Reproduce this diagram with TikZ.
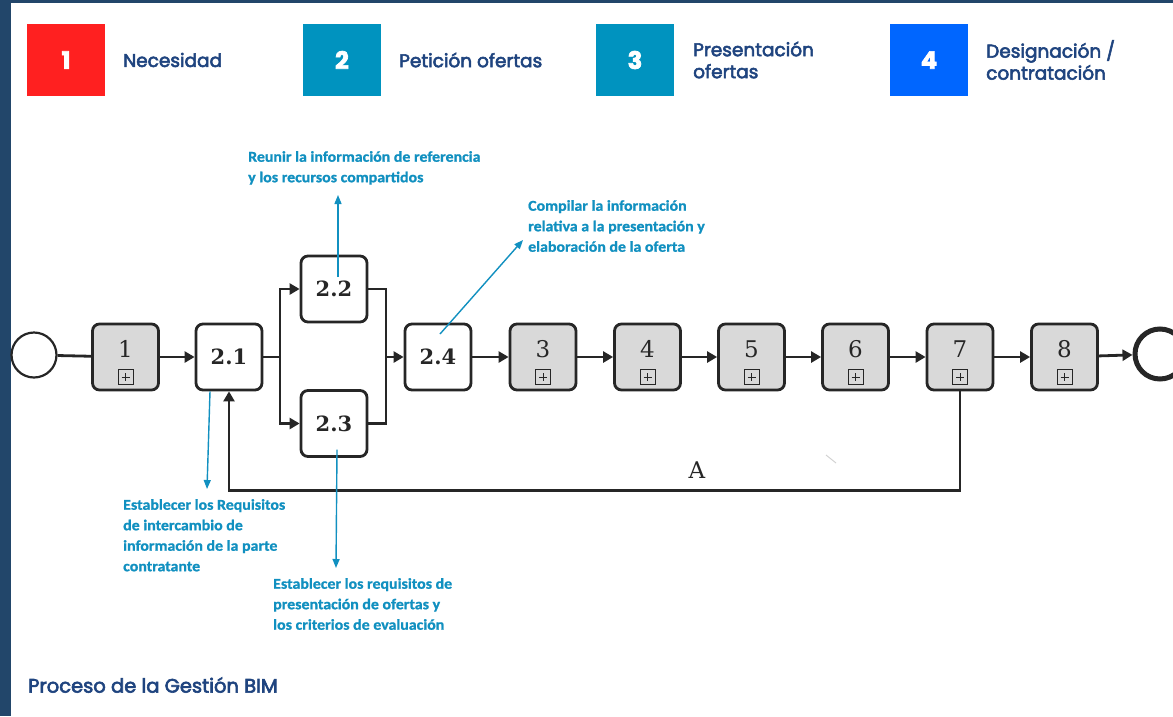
\documentclass[tikz,border=0pt]{standalone}
\usepackage{fontspec}
\setmainfont{DejaVu Serif}
\newfontfamily\headfont{Poppins}[FakeBold=3]
\newfontfamily\notefont{Carlito}[FakeStretch=1.06,FakeBold=1]
\usetikzlibrary{arrows.meta}
\definecolor{marco}{HTML}{22466A}
\definecolor{rojo}{HTML}{FF2020}
\definecolor{cian}{HTML}{0093BF}
\definecolor{azulvivo}{HTML}{0066FF}
\definecolor{azul}{HTML}{1F447F}
\definecolor{nota}{HTML}{1190C0}
\definecolor{tinta}{HTML}{262626}
\definecolor{gris}{HTML}{D9D9D9}
\begin{document}
\begin{tikzpicture}[x=1pt,y=-1pt,
  tarea/.style={draw=tinta,fill=white,line width=2.8pt,rounded corners=7pt,minimum width=66pt,minimum height=66pt,inner sep=0pt,font=\bfseries\fontsize{21}{24}\selectfont,text=tinta},
  subproc/.style={tarea,fill=gris},
  numero/.style={inner sep=0pt,font=\fontsize{23}{24}\selectfont,text=tinta},
  linea/.style={tinta,line width=2.8pt},
  flujo/.style={linea,-{Triangle[length=10pt,width=11pt]}},
  aviso/.style={nota,line width=1.4pt,-{Triangle[length=9pt,width=7pt]}},
  textonota/.style={anchor=north west,align=left,inner sep=0pt,font=\notefont\bfseries\fontsize{15}{20.5}\selectfont,text=nota},
  leyenda/.style={minimum width=78pt,minimum height=72pt,inner sep=0pt,font=\headfont\bfseries\fontsize{24}{26}\selectfont,text=white},
  etiqueta/.style={anchor=west,align=left,inner sep=0pt,font=\headfont\fontsize{18.5}{22}\selectfont,text=azul}]
 \useasboundingbox (0,0) rectangle (1173,716);
 \fill[white] (0,0) rectangle (1173,716);
 \fill[marco] (0,0) rectangle (11,716);
 \fill[marco] (0,0) rectangle (1173,3);

 \node[leyenda,fill=rojo] (l1) at (66,60) {1};
 \node[leyenda,fill=cian] (l2) at (342,60) {2};
 \node[leyenda,fill=cian] (l3) at (635,60) {3};
 \node[leyenda,fill=azulvivo] (l4) at (929,60) {4};
 \node[etiqueta] (e1) at (123,60) {Necesidad};
 \node[etiqueta] (e2) at (399,60) {Petición ofertas};
 \node[etiqueta] (e3) at (693,60) {Presentación\\ofertas};
 \node[etiqueta] (e4) at (986,60) {Designación /\\contratación};

 \node[draw=tinta,circle,line width=2.2pt,minimum size=45pt,inner sep=0pt] (inicio) at (34,355) {};
 \node[draw=tinta,circle,line width=5pt,minimum size=50pt,inner sep=0pt] (fin) at (1160,354) {};
 \node[tarea] (p21) at (229,357) {2.1};
 \node[tarea] (p22) at (334,289) {2.2};
 \node[tarea] (p23) at (334,423.5) {2.3};
 \node[tarea] (p24) at (438,357) {2.4};
 \foreach \n/\x in {1/125.5,3/543,4/647.5,5/751.5,6/855.5,7/960,8/1064.5} {
  \node[subproc] (p\n) at (\x,357) {};
  \node[numero] (c\n) at ([yshift=8pt]p\n.center) {\n};
  \draw[tinta,line width=1pt] ([xshift=-7.5pt,yshift=-12.5pt]p\n.center) rectangle ([xshift=7.5pt,yshift=-27.5pt]p\n.center);
  \draw[tinta,line width=1pt] ([xshift=-4pt,yshift=-20pt]p\n.center) -- ([xshift=4pt,yshift=-20pt]p\n.center);
  \draw[tinta,line width=1pt] ([yshift=-16pt]p\n.center) -- ([yshift=-24pt]p\n.center);
 }

 \coordinate (divide) at (280,357);
 \coordinate (une) at (386,357);
 \draw[linea] (inicio) -- (p1);
 \draw[flujo] (p1) -- (p21);
 \draw[linea] (p21) -- (divide);
 \draw[flujo] (divide) |- (p22);
 \draw[flujo] (divide) |- (p23);
 \draw[linea] (p22) -| (une);
 \draw[linea] (p23) -| (une);
 \draw[flujo] (une) -- (p24);
 \draw[flujo] (p24) -- (p3);
 \draw[flujo] (p3) -- (p4);
 \draw[flujo] (p4) -- (p5);
 \draw[flujo] (p5) -- (p6);
 \draw[flujo] (p6) -- (p7);
 \draw[flujo] (p7) -- (p8);
 \draw[flujo] (p8) -- (fin);
 \draw[flujo,rounded corners=0pt] (p7.south) -- ++(0,99) -| (p21.south);
 \node[numero] (bucle) at (697,470) {A};
 \draw[gray!35,line width=1pt] (826,455) -- (836,463);

 \node[textonota] (t22) at (248,151) {Reunir la información de referencia\\y los recursos compartidos};
 \node[textonota] (t24) at (528,200) {Compilar la información\\relativa a la presentación y\\elaboración de la oferta};
 \node[textonota] (t21) at (123,499) {Establecer los Requisitos\\de intercambio de\\información de la parte\\contratante};
 \node[textonota] (t23) at (273,578) {Establecer los requisitos de\\presentación de ofertas y\\los criterios de evaluación};
 \coordinate (f22) at (338,195);
 \coordinate (f24) at (523,240);
 \coordinate (f21) at (207,489);
 \coordinate (f23) at (336,568);
 \draw[aviso] ([xshift=4pt,yshift=12pt]p22.center) -- (f22);
 \draw[aviso] ([xshift=2pt,yshift=23pt]p24.center) -- (f24);
 \draw[aviso] ([xshift=-19pt]p21.south) -- (f21);
 \draw[aviso] ([xshift=3pt,yshift=-26pt]p23.center) -- (f23);

 \node[anchor=west,inner sep=0pt,font=\headfont\fontsize{19.5}{22}\selectfont,text=azul] (pie) at (28,685) {Proceso de la Gestión BIM};
\end{tikzpicture}
\end{document}
